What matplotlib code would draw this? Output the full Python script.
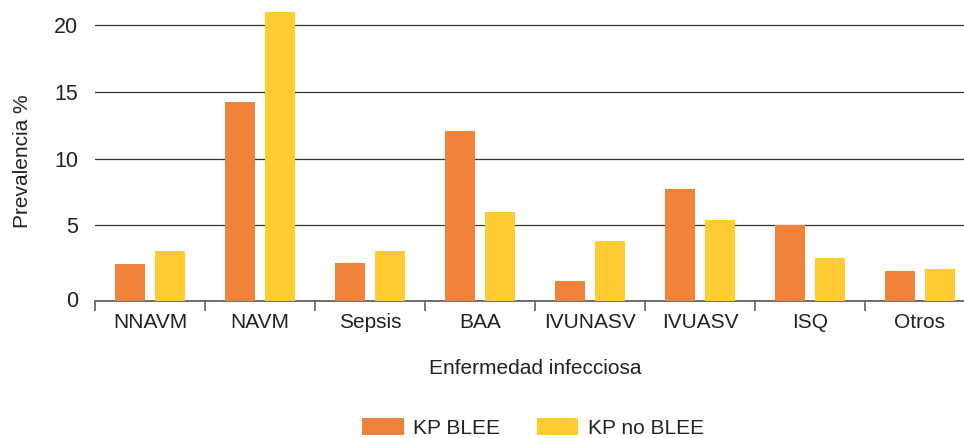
import numpy as np
import matplotlib
matplotlib.use('Agg')
import matplotlib.pyplot as plt
from matplotlib.transforms import ScaledTranslation

# datos
categorias = ['NNAVM', 'NAVM', 'Sepsis', 'BAA', 'IVUNASV', 'IVUASV', 'ISQ', 'Otros']
kp_blee = [2.1, 14.2, 2.2, 12.1, 0.85, 7.7, 5.0, 1.6]
kp_no_blee = [3.1, 20.95, 3.1, 6.0, 3.85, 5.4, 2.55, 1.75]
nombres_series = ['KP BLEE', 'KP no BLEE']

color_naranja = '#F08339'
color_amarillo = '#FFCC32'
color_texto = '#222222'

plt.rcParams['font.family'] = ['Liberation Sans', 'DejaVu Sans']
plt.rcParams['font.size'] = 15

fig = plt.figure(figsize=(9.64, 4.38), dpi=100)
ax = fig.add_axes([0.0985, 0.3128, 0.9129, 0.6644])

# el eje del original queda un poco por debajo de 0
y0 = -0.65
x = np.arange(len(categorias))
ancho = 0.273
desp = 0.182
ax.bar(x - desp, np.array(kp_blee) - y0, ancho, bottom=y0,
       color=color_naranja, label=nombres_series[0], zorder=3)
ax.bar(x + desp, np.array(kp_no_blee) - y0, ancho, bottom=y0,
       color=color_amarillo, label=nombres_series[1], zorder=3)

ax.set_xlim(-0.5, len(categorias) - 0.5)
ax.set_ylim(y0, 21.12)

# lineas de cuadricula
for g in [5, 10, 15, 20]:
    ax.axhline(g, color='#333333', lw=0.9, zorder=1)

ax.set_yticks([0, 5, 10, 15, 20])
ax.tick_params(axis='y', length=0, pad=12, labelsize=15.5, labelcolor=color_texto)
# la etiqueta 0 del original se apoya sobre el eje
lbl0 = ax.yaxis.get_major_ticks()[0].label1
lbl0.set_transform(lbl0.get_transform() + ScaledTranslation(0, -5 / 72, fig.dpi_scale_trans))

ax.set_xticks(x)
ax.set_xticklabels(categorias)
ax.tick_params(axis='x', which='major', length=0, pad=9, labelsize=15,
               labelcolor=color_texto)
ax.set_xticks(np.arange(-0.5, len(categorias)), minor=True)
ax.tick_params(axis='x', which='minor', length=7.5, width=1.1,
               color='#555555', direction='out')

for s in ['top', 'right', 'left']:
    ax.spines[s].set_visible(False)
ax.spines['bottom'].set_color('#555555')
ax.spines['bottom'].set_linewidth(1.2)

ax.set_ylabel('Prevalencia %', color=color_texto, fontsize=15)
ax.yaxis.set_label_coords(-0.071, 0.48)
ax.set_xlabel('Enfermedad infecciosa', color=color_texto, fontsize=15)
ax.xaxis.set_label_coords(0.5, -0.2)

leg = fig.legend(loc='center', bbox_to_anchor=(0.553, 0.023), ncol=2,
                 frameon=False, handlelength=2.0, handleheight=0.9,
                 handletextpad=0.45, columnspacing=1.75, borderpad=0,
                 fontsize=15)
for t in leg.get_texts():
    t.set_color(color_texto)

plt.savefig('out.png', dpi=100)
plt.close()
